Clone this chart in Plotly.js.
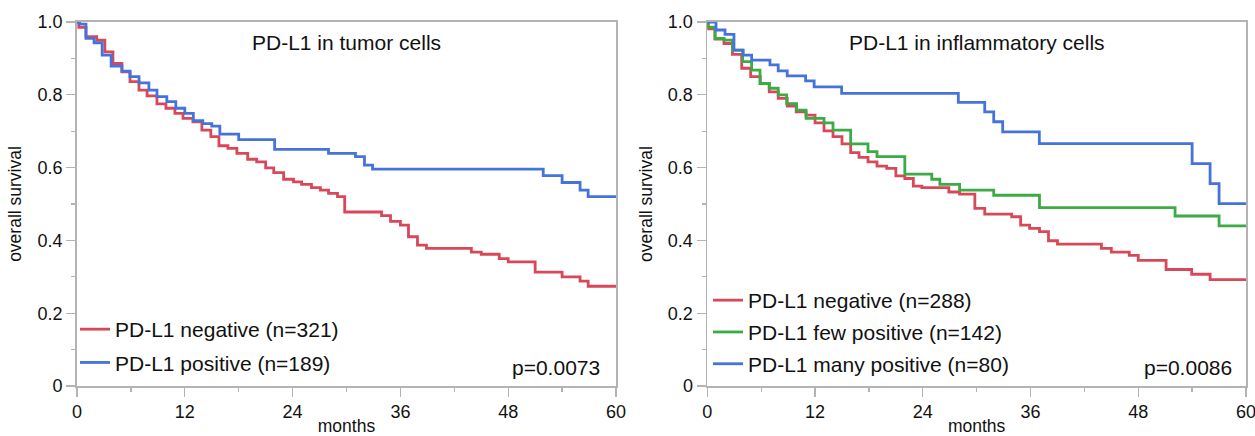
<!DOCTYPE html>
<html>
<head>
<meta charset="utf-8">
<script src="https://cdn.plot.ly/plotly-3.0.1.min.js"></script>
<style>html,body{margin:0;padding:0;background:#fff;}#chart{width:1255px;height:436px;}</style>
</head>
<body>
<div id="chart"></div>
<script>
// ---- Data ----
const tumorNegMonths = [0, 0.2, 1.0, 2.2, 3.1, 4.0, 5.0, 5.9, 6.9, 7.8, 8.9, 9.9, 10.9, 11.8, 12.9, 13.9, 14.9, 15.8, 16.8, 17.8, 19.0, 20.0, 21.0, 21.9, 23.0, 24.1, 25.0, 26.1, 27.1, 28.0, 29.0, 29.8, 33.9, 34.9, 36.0, 36.9, 37.9, 38.9, 43.9, 45.0, 47.0, 48.0, 51.0, 54.0, 56.0, 56.9, 60];
const tumorNegSurv   = [1.0, 0.985, 0.96, 0.95, 0.918, 0.886, 0.863, 0.836, 0.813, 0.797, 0.775, 0.763, 0.749, 0.735, 0.726, 0.703, 0.685, 0.66, 0.653, 0.639, 0.623, 0.616, 0.599, 0.586, 0.568, 0.561, 0.554, 0.545, 0.538, 0.529, 0.52, 0.478, 0.468, 0.452, 0.442, 0.41, 0.387, 0.378, 0.368, 0.362, 0.35, 0.341, 0.313, 0.30, 0.288, 0.274, 0.274];

const tumorPosMonths = [0, 0.3, 1.0, 1.9, 2.8, 3.8, 5.0, 5.9, 6.9, 8.0, 8.9, 10.0, 11.0, 12.0, 12.95, 14.0, 15.0, 15.9, 18.0, 22.0, 28.0, 31.0, 32.0, 32.9, 51.9, 54.0, 56.0, 56.9, 60];
const tumorPosSurv   = [1.0, 0.994, 0.955, 0.943, 0.909, 0.879, 0.865, 0.85, 0.833, 0.813, 0.795, 0.781, 0.763, 0.749, 0.729, 0.721, 0.714, 0.692, 0.677, 0.65, 0.639, 0.63, 0.607, 0.596, 0.578, 0.559, 0.538, 0.52, 0.52];

const inflNegMonths = [0, 0.1, 0.86, 1.86, 2.8, 3.83, 4.83, 5.9, 6.9, 7.9, 8.9, 9.9, 11.0, 12.0, 13.0, 14.0, 15.0, 15.97, 16.9, 17.9, 18.9, 19.98, 21.0, 22.0, 22.95, 23.9, 26.9, 28.1, 29.8, 30.9, 33.9, 34.9, 35.9, 37.0, 38.0, 39.0, 43.9, 45.0, 47.0, 48.0, 51.1, 53.95, 56.0, 60];
const inflNegSurv   = [1.0, 0.981, 0.953, 0.941, 0.911, 0.873, 0.85, 0.831, 0.808, 0.79, 0.769, 0.753, 0.744, 0.723, 0.701, 0.685, 0.665, 0.641, 0.628, 0.616, 0.604, 0.598, 0.577, 0.570, 0.549, 0.545, 0.533, 0.527, 0.488, 0.472, 0.465, 0.442, 0.433, 0.424, 0.399, 0.39, 0.378, 0.368, 0.359, 0.345, 0.32, 0.307, 0.292, 0.292];

const inflFewMonths = [0, 0.1, 0.86, 1.86, 2.8, 3.94, 4.94, 5.87, 6.9, 7.9, 8.84, 9.95, 11.0, 13.0, 14.0, 15.97, 17.9, 18.9, 22.0, 25.0, 25.9, 28.1, 31.9, 37.0, 52.1, 57.0, 60];
const inflFewSurv   = [1.0, 0.986, 0.955, 0.95, 0.923, 0.891, 0.868, 0.831, 0.818, 0.8, 0.776, 0.758, 0.735, 0.723, 0.703, 0.665, 0.644, 0.63, 0.582, 0.568, 0.554, 0.538, 0.524, 0.49, 0.467, 0.44, 0.44];

const inflManyMonths = [0, 0.97, 1.97, 2.97, 4.0, 4.94, 6.98, 7.9, 8.9, 10.95, 11.9, 14.96, 27.96, 30.9, 31.9, 32.9, 36.98, 54.0, 56.0, 57.0, 60];
const inflManySurv   = [1.0, 0.978, 0.966, 0.923, 0.909, 0.895, 0.882, 0.866, 0.852, 0.838, 0.822, 0.804, 0.779, 0.753, 0.726, 0.698, 0.666, 0.611, 0.556, 0.501, 0.501];

const tumorNames = ['PD-L1 negative (n=321)', 'PD-L1 positive (n=189)'];
const inflNames  = ['PD-L1 negative (n=288)', 'PD-L1 few positive (n=142)', 'PD-L1 many positive (n=80)'];
const panelTitles = ['PD-L1 in tumor cells', 'PD-L1 in inflammatory cells'];
const pValues = ['p=0.0073', 'p=0.0086'];
const xTickVals = [0, 12, 24, 36, 48, 60];
const xTickText = ['0', '12', '24', '36', '48', '60'];
const yTickVals = [0, 0.2, 0.4, 0.6, 0.8, 1.0];
const yTickText = ['0', '0.2', '0.4', '0.6', '0.8', '1.0'];

// ---- Styles ----
const RED = '#d94858', BLUE = '#4473dc', GREEN = '#3aab45';
const AXC = '#b3b3b3';
const FONT = 'Liberation Sans, Arial, sans-serif';
const LW = 2.8;

function step(x, y, name, color, xa, ya, leg, grp) {
  return {type: 'scatter', mode: 'lines', x: x, y: y, name: name,
    line: {shape: 'hv', color: color, width: LW},
    xaxis: xa, yaxis: ya, legend: leg, legendgroup: grp, hoverinfo: 'x+y+name'};
}

const traces = [
  step(tumorNegMonths, tumorNegSurv, tumorNames[0], RED, 'x', 'y', 'legend', 'a1'),
  step(tumorPosMonths, tumorPosSurv, tumorNames[1], BLUE, 'x', 'y', 'legend', 'a2'),
  step(inflNegMonths, inflNegSurv, inflNames[0], RED, 'x2', 'y2', 'legend2', 'b1'),
  step(inflFewMonths, inflFewSurv, inflNames[1], GREEN, 'x2', 'y2', 'legend2', 'b2'),
  step(inflManyMonths, inflManySurv, inflNames[2], BLUE, 'x2', 'y2', 'legend2', 'b3')
];

function xaxis(domain, anchor) {
  return {domain: domain, anchor: anchor, range: [0, 60], tickvals: xTickVals, ticktext: xTickText,
    ticks: 'outside', ticklen: 9, tickwidth: 1.3, tickcolor: AXC, ticklabeloverflow: 'allow',
    minor: {dtick: 6, tick0: 0, ticks: 'outside', ticklen: 4, tickwidth: 1.3, tickcolor: AXC, showgrid: false},
    showline: true, linecolor: AXC, linewidth: 1.8, mirror: true, showgrid: false, zeroline: false,
    tickfont: {family: FONT, size: 18, color: '#111'},
    title: {text: 'months', font: {family: FONT, size: 17.5, color: '#111'}, standoff: 14},
    fixedrange: true};
}
function yaxis(domain, anchor) {
  return {domain: domain, anchor: anchor, range: [0, 1], tickvals: yTickVals, ticktext: yTickText,
    ticks: 'outside', ticklen: 9, tickwidth: 1.3, tickcolor: AXC, ticklabeloverflow: 'allow',
    minor: {dtick: 0.1, tick0: 0, ticks: 'outside', ticklen: 4, tickwidth: 1.3, tickcolor: AXC, showgrid: false},
    showline: true, linecolor: AXC, linewidth: 1.8, mirror: true, showgrid: false, zeroline: false,
    tickfont: {family: FONT, size: 18, color: '#111'},
    title: {text: 'overall survival', font: {family: FONT, size: 17.5, color: '#111'}, standoff: 11},
    fixedrange: true};
}

const yDom = [50 / 436, 414 / 436];
const layout = {
  width: 1255, height: 436,
  margin: {l: 0, r: 0, t: 0, b: 0},
  paper_bgcolor: '#fff', plot_bgcolor: '#fff',
  font: {family: FONT, color: '#111'},
  xaxis: xaxis([77 / 1255, 616 / 1255], 'y'),
  yaxis: yaxis(yDom, 'x'),
  xaxis2: xaxis([707.3 / 1255, 1246 / 1255], 'y2'),
  yaxis2: yaxis(yDom, 'x2'),
  legend: {x: 75 / 1255, xanchor: 'left', y: (436 - 309) / 436, yanchor: 'top',
    font: {family: FONT, size: 21, color: '#111'}, bgcolor: 'rgba(0,0,0,0)',
    traceorder: 'grouped', tracegroupgap: 3, itemwidth: 30},
  legend2: {x: 708 / 1255, xanchor: 'left', y: (436 - 280) / 436, yanchor: 'top',
    font: {family: FONT, size: 21, color: '#111'}, bgcolor: 'rgba(0,0,0,0)',
    traceorder: 'grouped', tracegroupgap: 1.5, itemwidth: 30},
  showlegend: true,
  annotations: [
    {text: panelTitles[0], xref: 'x domain', yref: 'y domain', x: 0.5, y: 0.944, xanchor: 'center', yanchor: 'middle',
     showarrow: false, font: {family: FONT, size: 21, color: '#111'}},
    {text: panelTitles[1], xref: 'x2 domain', yref: 'y2 domain', x: 0.5, y: 0.944, xanchor: 'center', yanchor: 'middle',
     showarrow: false, font: {family: FONT, size: 21, color: '#111'}},
    {text: pValues[0], xref: 'x domain', yref: 'y domain', x: 0.974, y: 0.05, xanchor: 'right', yanchor: 'middle',
     showarrow: false, font: {family: FONT, size: 21, color: '#111'}},
    {text: pValues[1], xref: 'x2 domain', yref: 'y2 domain', x: 0.978, y: 0.052, xanchor: 'right', yanchor: 'middle',
     showarrow: false, font: {family: FONT, size: 21, color: '#111'}}
  ]
};

Plotly.newPlot('chart', traces, layout, {displayModeBar: false, staticPlot: true});
</script>
</body>
</html>
